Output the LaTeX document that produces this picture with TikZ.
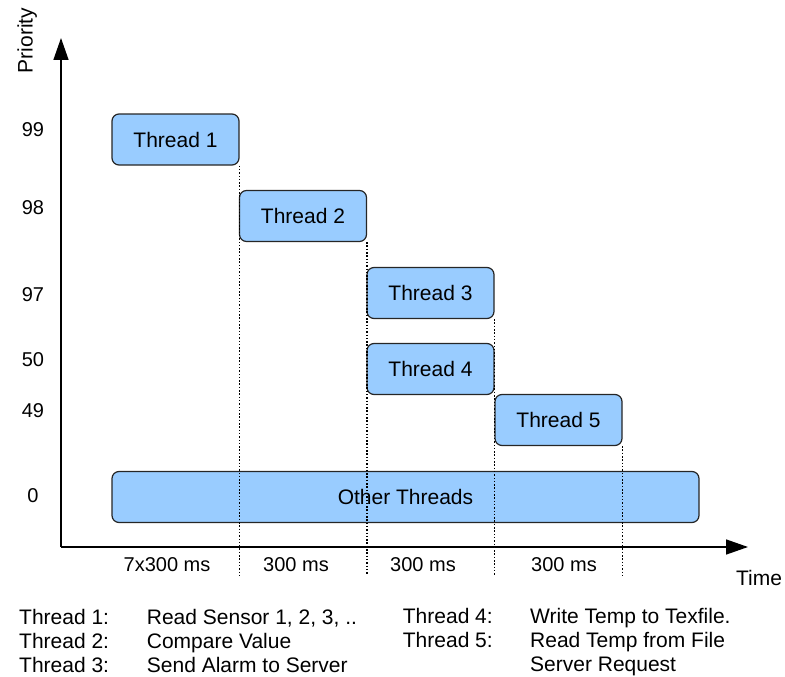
\documentclass[tikz,border=0pt]{standalone}
\usepackage{fontspec}
\setmainfont{Liberation Sans}
\usetikzlibrary{arrows.meta}

\definecolor{threadblue}{HTML}{99CCFF}

\tikzset{
	thread/.style={draw=black!85, fill=threadblue, rounded corners=7pt,
		line width=1.2pt, minimum width=127pt, minimum height=51pt,
		font=\fontsize{21}{25}\selectfont},
	axisline/.style={line width=1.5pt, -{Triangle[length=22pt,width=15pt]}},
	slot/.style={line width=1.5pt, dash pattern=on 1.5pt off 1.8pt},
	prio/.style={anchor=base, font=\fontsize{20}{24}\selectfont},
	legendtext/.style={anchor=base west, inner sep=0pt,
		font=\fontsize{21}{25}\selectfont}
}

\begin{document}
\begin{tikzpicture}[x=1pt, y=-1pt]
		\useasboundingbox (0,0) rectangle (785,677);

		% axes
		\coordinate (origin) at (61,547);
		\coordinate (ytop) at (61,38);
		\coordinate (xend) at (748,547);
		\draw [axisline] (origin) -- (ytop);
		\draw [axisline] (origin) -- (xend);
		\node [prio, rotate=90, font=\fontsize{21}{25}\selectfont] (prioname) at (32.5,40.5) {Priority};
		\node [prio, font=\fontsize{21}{25}\selectfont] (timename) at (759,585) {Time};

		% priority levels
		\node [prio] (p99) at (33,136.7) {99};
		\node [prio] (p98) at (33,214) {98};
		\node [prio] (p97) at (33,301) {97};
		\node [prio] (p50) at (33,366.7) {50};
		\node [prio] (p49) at (33,417.7) {49};
		\node [prio] (p0) at (33,502) {0};

		% threads
		\node [thread] (t1) at (175.5,139.5) {Thread 1};
		\node [thread] (t2) at (303,216) {Thread 2};
		\node [thread] (t3) at (430.5,293) {Thread 3};
		\node [thread] (t4) at (430.5,369) {Thread 4};
		\node [thread] (t5) at (558.5,420) {Thread 5};
		\node [thread, minimum width=587pt] (other) at (405.5,497) {Other Threads};

		% time slots
		\coordinate (slotend) at (0,575);
		\draw [slot] (t1.south east) -- (t1.south east |- slotend);
		\draw [slot] (t2.south east) -- (t2.south east |- slotend);
		\draw [slot] (t3.south east) -- (t3.south east |- slotend);
		\draw [slot] (t5.south east) -- (t5.south east |- slotend);

		\node [prio] (s1) at (167,571) {7x300 ms};
		\node [prio] (s2) at (296,571) {300 ms};
		\node [prio] (s3) at (423,571) {300 ms};
		\node [prio] (s4) at (564,571) {300 ms};

		% legend
		\node [legendtext] (l1) at (19,624) {Thread 1:};
		\node [legendtext] (d1) at (146.7,624) {Read Sensor 1, 2, 3, ..};
		\node [legendtext] (l2) at (19,648) {Thread 2:};
		\node [legendtext] (d2) at (146.7,648) {Compare Value};
		\node [legendtext] (l3) at (19,672) {Thread 3:};
		\node [legendtext] (d3) at (146.7,672) {Send Alarm to Server};
		\node [legendtext] (l4) at (402.7,623) {Thread 4:};
		\node [legendtext] (d4) at (530,623) {Write Temp to Texfile.};
		\node [legendtext] (l5) at (402.7,647) {Thread 5:};
		\node [legendtext] (d5) at (530,647) {Read Temp from File};
		\node [legendtext] (d6) at (530,671) {Server Request};
	\end{tikzpicture}
\end{document}
